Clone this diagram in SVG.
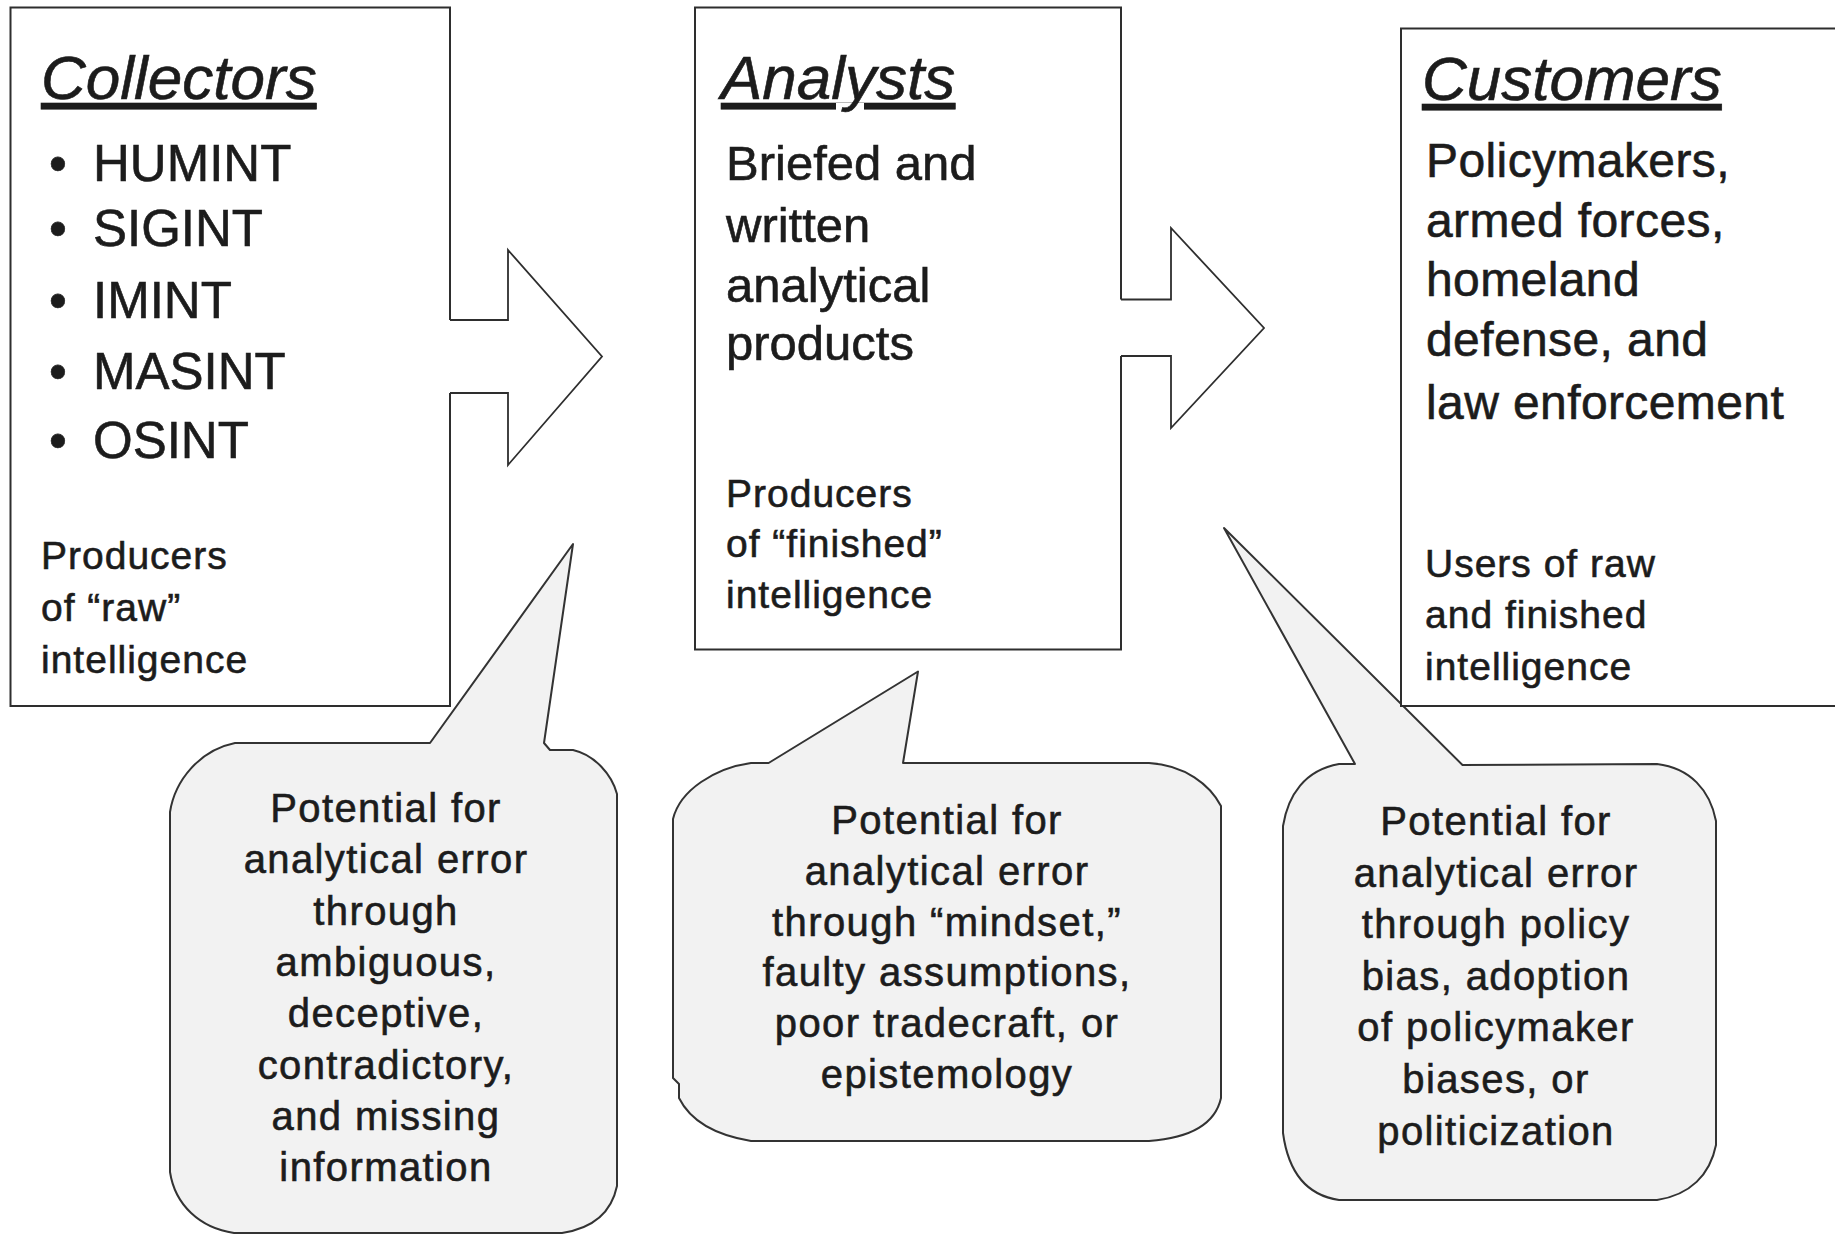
<svg xmlns="http://www.w3.org/2000/svg" width="1835" height="1235" viewBox="0 0 1835 1235">
<style>
.box{fill:#fff;stroke:#2e2e2e;stroke-width:2;stroke-linejoin:miter}
.arrow{fill:#fff;stroke:#2e2e2e;stroke-width:1.8;stroke-linejoin:miter}
.callout{fill:#f2f2f2;stroke:#333;stroke-width:2;stroke-linejoin:round}
text{font-family:"Liberation Sans",Arial,sans-serif;fill:#1c1c1c;stroke:#1c1c1c;stroke-width:0.6px}
.title{font-size:62px;font-style:italic;text-decoration:underline}
.list{font-size:51px}
.main{font-size:49px}
.main2{font-size:48px;letter-spacing:0.4px}
.sub{font-size:39px;letter-spacing:1px}
.co{font-size:40px;letter-spacing:1.4px;text-anchor:middle}
</style>
<rect width="1835" height="1235" fill="#fff"/>

<g id="callout-collectors">
<path class="callout" d="M235,743 L430,743 L573,544 L544,743 L550,750 L573,750 C595,755 612,775 617,794 L617,1186 C612,1210 595,1228 562,1233 L234,1233 C200,1228 175,1205 170,1172 L170,812 C175,780 200,750 235,743 Z"/>
<text class="co" x="386" y="822">Potential for</text>
<text class="co" x="386" y="873.3">analytical error</text>
<text class="co" x="386" y="924.6">through</text>
<text class="co" x="386" y="975.9">ambiguous,</text>
<text class="co" x="386" y="1027.2">deceptive,</text>
<text class="co" x="386" y="1078.5">contradictory,</text>
<text class="co" x="386" y="1129.8">and missing</text>
<text class="co" x="386" y="1181.1">information</text>
</g>

<g id="callout-analysts">
<path class="callout" d="M751,763 L768.6,763 L918,671.5 L903,763 L1149,763 C1185,765 1210,785 1221,806 L1221,1098 C1215,1125 1190,1138 1149,1141 L751,1141 C715,1135 690,1120 679,1098 L679,1084 L673,1078 L673,819 C680,790 715,768 751,763 Z"/>
<text class="co" x="947" y="834">Potential for</text>
<text class="co" x="947" y="884.8">analytical error</text>
<text class="co" x="947" y="935.5">through “mindset,”</text>
<text class="co" x="947" y="986.3">faulty assumptions,</text>
<text class="co" x="947" y="1037">poor tradecraft, or</text>
<text class="co" x="947" y="1087.8">epistemology</text>
</g>

<g id="callout-customers">
<path class="callout" d="M1339,764 L1355,764 L1224,528 L1462.5,765 L1657,764 C1690,768 1710,790 1716,821 L1716,1145 C1710,1175 1690,1195 1657,1200 L1339,1200 C1305,1195 1288,1170 1283,1133 L1283,826 C1288,795 1305,770 1339,764 Z"/>
<text class="co" x="1496" y="835">Potential for</text>
<text class="co" x="1496" y="886.6">analytical error</text>
<text class="co" x="1496" y="938.2">through policy</text>
<text class="co" x="1496" y="989.8">bias, adoption</text>
<text class="co" x="1496" y="1041.4">of policymaker</text>
<text class="co" x="1496" y="1093">biases, or</text>
<text class="co" x="1496" y="1144.6">politicization</text>
</g>

<g id="node-collectors">
<path class="box" d="M450,320 L450,7.5 L10.5,7.5 L10.5,706 L450,706 L450,393"/>
<text class="title" x="41" y="99">Collectors</text>
<text class="list" y="181"><tspan x="49">•</tspan><tspan x="93">HUMINT</tspan></text>
<text class="list" y="246"><tspan x="49">•</tspan><tspan x="93">SIGINT</tspan></text>
<text class="list" y="318"><tspan x="49">•</tspan><tspan x="93">IMINT</tspan></text>
<text class="list" y="389"><tspan x="49">•</tspan><tspan x="93">MASINT</tspan></text>
<text class="list" y="458"><tspan x="49">•</tspan><tspan x="93">OSINT</tspan></text>
<text class="sub" x="41" y="569">Producers</text>
<text class="sub" x="41" y="621">of “raw”</text>
<text class="sub" x="41" y="673">intelligence</text>
</g>

<g id="node-analysts">
<path class="box" d="M1121,299.5 L1121,7.5 L695,7.5 L695,649.5 L1121,649.5 L1121,356"/>
<text class="title" x="721" y="99">Analysts</text>
<text class="main" x="726" y="180">Briefed and</text>
<text class="main" x="726" y="242">written</text>
<text class="main" x="726" y="302">analytical</text>
<text class="main" x="726" y="360">products</text>
<text class="sub" x="726" y="507">Producers</text>
<text class="sub" x="726" y="557">of “finished”</text>
<text class="sub" x="726" y="608">intelligence</text>
</g>

<g id="node-customers">
<rect class="box" x="1401" y="28.5" width="460" height="677.5"/>
<text class="title" x="1422" y="100">Customers</text>
<text class="main2" x="1426" y="177">Policymakers,</text>
<text class="main2" x="1426" y="236.5">armed forces,</text>
<text class="main2" x="1426" y="296">homeland</text>
<text class="main2" x="1426" y="356">defense, and</text>
<text class="main2" x="1426" y="418.5">law enforcement</text>
<text class="sub" x="1425" y="577">Users of raw</text>
<text class="sub" x="1425" y="628">and finished</text>
<text class="sub" x="1425" y="679.5">intelligence</text>
</g>

<g id="connectors">
<path class="arrow" d="M450,320 L508,320 L508,250 L602,356.5 L508,465 L508,393 L450,393"/>
<path class="arrow" d="M1121,299.5 L1171,299.5 L1171,228 L1264,328 L1171,428 L1171,356 L1121,356"/>
</g>
</svg>
